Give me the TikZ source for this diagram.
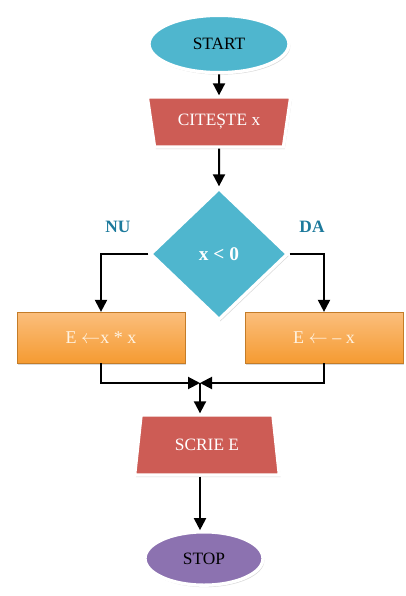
\documentclass[tikz,border=0pt]{standalone}
\usepackage{fontspec}
\setmainfont{Liberation Serif}
\usetikzlibrary{arrows.meta,shapes.geometric,shadows,positioning}

\definecolor{cblue}{RGB}{79,182,206}
\definecolor{cred}{RGB}{205,92,85}
\definecolor{cpurple}{RGB}{140,114,176}
\definecolor{corangetop}{RGB}{251,190,124}
\definecolor{corangebot}{RGB}{245,155,50}
\definecolor{clabel}{RGB}{29,122,156}
\definecolor{ccream}{RGB}{255,243,226}

\begin{document}
\begin{tikzpicture}[x=0.75pt,y=-0.75pt,
  font=\fontsize{13}{15}\selectfont,
  blk/.style={draw=white,line width=2.5pt,inner sep=0pt,
    drop shadow={opacity=0.3,shadow xshift=1pt,shadow yshift=-1.5pt}},
  term/.style={blk,ellipse},
  io/.style={blk,trapezium,trapezium stretches=true,fill=cred,text=white},
  decision/.style={blk,diamond,fill=cblue,text=white,font=\fontsize{14.5}{16}\selectfont\bfseries},
  assign/.style={rectangle,draw=corangebot!80!black,line width=0.4pt,
    top color=corangetop,bottom color=corangebot,text=ccream,
    minimum height=38pt,font=\fontsize{13.5}{15}\selectfont,
    drop shadow={opacity=0.3,shadow xshift=1pt,shadow yshift=-1.5pt}},
  flow/.style={line width=1.5pt,-{Triangle[length=9pt,width=9pt]}},
  lbl/.style={text=clabel,font=\fontsize{13}{15}\selectfont\bfseries}]

\useasboundingbox (0,0) rectangle (406,596);

\node[term,fill=cblue,minimum width=105pt,minimum height=43pt] (start) at (219,44) {START};
\node[io,shape border rotate=180,minimum width=108pt,minimum height=37.5pt,
  trapezium left angle=73,trapezium right angle=73] (citeste) at (219,122) {CITEȘTE x};
\node[decision,minimum width=103.5pt,minimum height=99pt] (test) at (219,254) {x < 0};
\node[assign,minimum width=126pt] (nu) at (101,337.5) {E $\leftarrow$x * x};
\node[assign,minimum width=118.5pt] (da) at (324,337.5) {E $\leftarrow$ -- x};
\node[io,minimum width=109pt,minimum height=45pt,
  trapezium left angle=75,trapezium right angle=75] (scrie) at (207,445) {SCRIE E};
\node[term,fill=cpurple,minimum width=88.5pt,minimum height=40pt] (stop) at (204,558.5) {STOP};

\node[lbl] (lnu) at (118,227) {NU};
\node[lbl] (lda) at (312,227) {DA};

\coordinate (join) at (200,383);

\draw[flow] (start) -- (citeste);
\draw[flow] (citeste) -- (test);
\draw[flow] (test.west) -| (nu);
\draw[flow] (test.east) -| (da);
\draw[flow] (nu) |- (join);
\draw[flow] (da) |- (join);
\draw[flow] (join) -- (join |- scrie.north);
\draw[flow] (scrie.south -| join) -- (stop.north -| join);
\end{tikzpicture}
\end{document}
